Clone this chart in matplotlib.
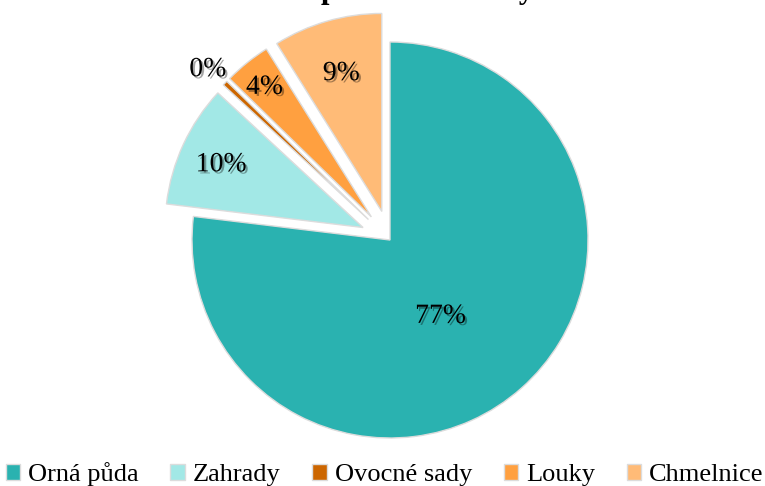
import numpy as np
import matplotlib
matplotlib.use('Agg')
import matplotlib.pyplot as plt
import matplotlib.patheffects as pe

labels = ['Orná půda', 'Zahrady', 'Ovocné sady', 'Louky', 'Chmelnice']
values = [76.9, 10.0, 0.4, 3.8, 8.9]
colors = ['#2AB2B0', '#A2E8E6', '#CC6600', '#FFA040', '#FFBB77']
explode = [0, 0.15, 0.15, 0.15, 0.15]   # fraction of radius
label_dist = [0.45, 0.79, 1.12, 0.86, 0.74]
label_turn = [-7, 0, 0, 0, 0]            # degrees, best-fit label nudges

plt.rcParams['font.family'] = ['Liberation Serif', 'DejaVu Serif']

fig = plt.figure(figsize=(7.65, 4.86), dpi=100)
ax = fig.add_axes([0, 0, 1, 1])

R = 198
wedges, _ = ax.pie(values, colors=colors, explode=[e * R for e in explode],
                   startangle=90, counterclock=False, center=(390, 246), radius=R,
                   wedgeprops=dict(edgecolor='#dcdcdc', linewidth=1.0))
ax.set_xlim(0, 765)
ax.set_ylim(0, 486)
ax.set_aspect('equal')
ax.axis('off')

shadow = [pe.SimplePatchShadow(offset=(1.5, -1.5), alpha=0.35), pe.Normal()]
for w, v, d, t in zip(wedges, values, label_dist, label_turn):
    ang = np.deg2rad((w.theta1 + w.theta2) / 2 + t)
    cx, cy = w.center
    ax.text(cx + d * R * np.cos(ang), cy + d * R * np.sin(ang) - 3, f'{v:.0f}%',
            ha='center', va='center', fontsize=20, path_effects=shadow)

# title is cut off at the top of the reference image
ax.text(443, 488, 'Zastoupení zemědělských kultur', ha='center', va='baseline',
        fontsize=22, fontweight='bold')

handles = [plt.Rectangle((0, 0), 1, 1, facecolor=c, edgecolor='#dcdcdc') for c in colors]
fig.legend(handles, labels, loc='lower center', bbox_to_anchor=(0.503, -0.022), ncol=5,
           frameon=False, fontsize=19, handlelength=0.55, handleheight=0.55,
           handletextpad=0.3, columnspacing=1.2, borderaxespad=0)

fig.savefig('out.png', dpi=100)
